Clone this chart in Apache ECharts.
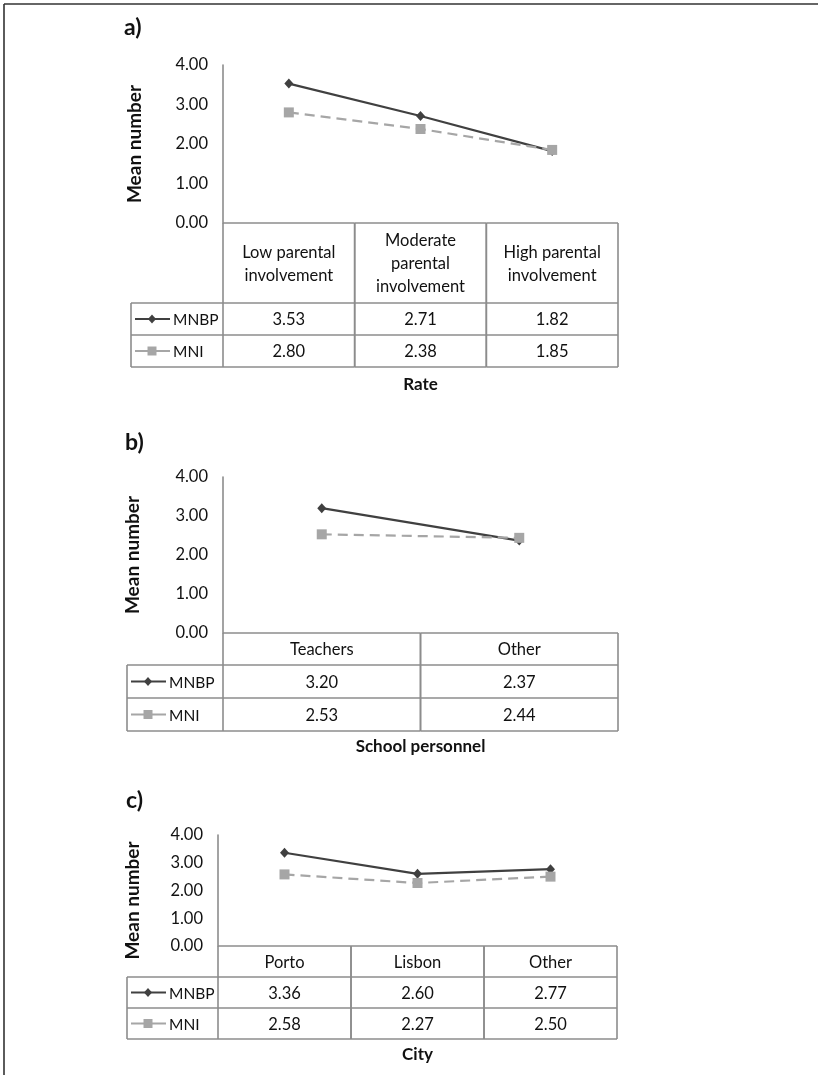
<!DOCTYPE html>
<html><head><meta charset="utf-8">
<script src="https://cdn.jsdelivr.net/npm/echarts@6/dist/echarts.min.js"></script>
<style>html,body{margin:0;padding:0;background:#fff}#c{width:818px;height:1075px}</style>
</head><body><div id="c"></div>
<script>
// ---- data ----
const rateCategories = ['Low parental\ninvolvement', 'Moderate\nparental\ninvolvement', 'High parental\ninvolvement'];
const rateMNBP = [3.53, 2.71, 1.82];
const rateMNI = [2.80, 2.38, 1.85];
const personnelCategories = ['Teachers', 'Other'];
const personnelMNBP = [3.20, 2.37];
const personnelMNI = [2.53, 2.44];
const cityCategories = ['Porto', 'Lisbon', 'Other'];
const cityMNBP = [3.36, 2.60, 2.77];
const cityMNI = [2.58, 2.27, 2.50];
const yTicks = [0, 1, 2, 3, 4];
const panelLabels = ['a)', 'b)', 'c)'];
const axisTitles = ['Rate', 'School personnel', 'City'];
const yAxisTitle = 'Mean number';
const seriesNames = ['MNBP', 'MNI'];

const panels = [
  {categories: rateCategories, mnbp: rateMNBP, mni: rateMNI},
  {categories: personnelCategories, mnbp: personnelMNBP, mni: personnelMNI},
  {categories: cityCategories, mnbp: cityMNBP, mni: cityMNI}
];

// ---- layout / style ----
const FONT = 'Lato';
const layouts = [
  {left: 223, top: 65, width: 395, height: 158, headerH: 80, rowH: 32, legendW: 92, nameGap: 79, namePad: [0,0,0,0], titleGap: 153, label: {left: 124, top: 16}},
  {left: 223, top: 477, width: 395, height: 156, headerH: 32, rowH: 33, legendW: 96, nameGap: 81, namePad: [0,0,0,0], titleGap: 105, label: {left: 125, top: 431}},
  {left: 218, top: 835, width: 399, height: 111, headerH: 31, rowH: 31, legendW: 91, nameGap: 76, namePad: [0,20,0,0], titleGap: 100, label: {left: 126, top: 789}}
];
const DARK = '#404040', LIGHT = '#a6a6a6', BORDER = '#8c8c8c', TXT = '#111';

function tableRender(pi) {
  const L = layouts[pi], d = panels[pi];
  return function (params, api) {
    const i = api.value(0);
    const cs = params.coordSys;
    const bw = api.size([1, 0])[0];
    const cx = api.coord([i, 0])[0];
    const x0 = cx - bw / 2, x1 = cx + bw / 2;
    const yTop = cs.y + cs.height;
    const y1 = yTop + L.headerH, y2 = y1 + L.rowH, y3 = y2 + L.rowH;
    const ls = {stroke: BORDER, lineWidth: 1.6};
    const ch = [];
    const seg = (ax, ay, bx, by) => ch.push({type: 'line', silent: true, shape: {x1: ax, y1: ay, x2: bx, y2: by}, style: ls});
    const txt = (t, x, y, align, size) => ch.push({type: 'text', silent: true, style: {text: t, x: x, y: y, align: align || 'center', verticalAlign: 'middle', fontFamily: FONT, fontSize: size || 16.5, lineHeight: 23, fill: TXT}});
    seg(x0, yTop, x1, yTop); seg(x0, y1, x1, y1); seg(x0, y2, x1, y2); seg(x0, y3, x1, y3);
    seg(x0, yTop, x0, y3); seg(x1, yTop, x1, y3);
    txt(d.categories[i], cx, (yTop + y1) / 2 + 1);
    txt(api.value(1).toFixed(2), cx, (y1 + y2) / 2 + 1);
    txt(api.value(2).toFixed(2), cx, (y2 + y3) / 2 + 1);
    if (i === 0) {
      const lx = x0 - L.legendW;
      seg(lx, y1, x0, y1); seg(lx, y2, x0, y2); seg(lx, y3, x0, y3); seg(lx, y1, lx, y3);
      const rows = [(y1 + y2) / 2, (y2 + y3) / 2];
      // MNBP key
      ch.push({type: 'line', silent: true, shape: {x1: lx + 4, y1: rows[0], x2: lx + 39, y2: rows[0]}, style: {stroke: DARK, lineWidth: 2.2}});
      ch.push({type: 'polygon', silent: true, shape: {points: [[lx + 21, rows[0] - 4.5], [lx + 25, rows[0]], [lx + 21, rows[0] + 4.5], [lx + 17, rows[0]]]}, style: {fill: DARK}});
      txt(seriesNames[0], lx + 42, rows[0] + 1, 'left', 15.5);
      // MNI key
      ch.push({type: 'line', silent: true, shape: {x1: lx + 4, y1: rows[1], x2: lx + 39, y2: rows[1]}, style: {stroke: LIGHT, lineWidth: 2.2}});
      ch.push({type: 'rect', silent: true, shape: {x: lx + 16.5, y: rows[1] - 4.5, width: 9, height: 9}, style: {fill: LIGHT}});
      txt(seriesNames[1], lx + 42, rows[1] + 1, 'left', 15.5);
    }
    return {type: 'group', children: ch};
  };
}

const grid = [], xAxis = [], yAxis = [], series = [], title = [];
panels.forEach((p, pi) => {
  const L = layouts[pi];
  grid.push({left: L.left, top: L.top, width: L.width, height: L.height, containLabel: false});
  xAxis.push({
    type: 'category', gridIndex: pi, data: p.categories, boundaryGap: true,
    axisLine: {show: false}, axisTick: {show: false}, axisLabel: {show: false}, splitLine: {show: false},
    name: axisTitles[pi], nameLocation: 'middle', nameGap: L.titleGap,
    nameTextStyle: {fontFamily: FONT, fontWeight: 'bold', fontSize: 17, color: TXT}
  });
  yAxis.push({
    type: 'value', gridIndex: pi, min: yTicks[0], max: yTicks[yTicks.length - 1], interval: yTicks[1] - yTicks[0],
    axisLine: {show: true, lineStyle: {color: BORDER, width: 1.6}}, axisTick: {show: false}, splitLine: {show: false},
    axisLabel: {formatter: v => v.toFixed(2), margin: 15, fontFamily: FONT, fontSize: 16.5, color: TXT},
    name: yAxisTitle, nameLocation: 'middle', nameRotate: 90, nameGap: L.nameGap,
    nameTextStyle: {fontFamily: FONT, fontWeight: 'bold', fontSize: 19, color: TXT, padding: L.namePad}
  });
  series.push({
    type: 'custom', xAxisIndex: pi, yAxisIndex: pi, z: 1, silent: true, clip: false,
    renderItem: tableRender(pi),
    data: p.categories.map((c, i) => [i, p.mnbp[i], p.mni[i]])
  });
  series.push({
    type: 'line', name: seriesNames[0], xAxisIndex: pi, yAxisIndex: pi, data: p.mnbp, z: 3,
    symbol: 'diamond', symbolSize: [9, 10], showSymbol: true,
    lineStyle: {color: DARK, width: 2.2}, itemStyle: {color: DARK}, animation: false
  });
  series.push({
    type: 'line', name: seriesNames[1], xAxisIndex: pi, yAxisIndex: pi, data: p.mni, z: 4,
    symbol: 'rect', symbolSize: 10, showSymbol: true,
    lineStyle: {color: LIGHT, width: 2.2, type: [10, 6]}, itemStyle: {color: LIGHT}, animation: false
  });
  title.push({text: panelLabels[pi], left: L.label.left, top: L.label.top, padding: 0,
    textStyle: {fontFamily: FONT, fontWeight: 'bold', fontSize: 23, color: '#111'}});
});

const chart = echarts.init(document.getElementById('c'), null, {renderer: 'canvas'});
chart.setOption({
  animation: false,
  backgroundColor: '#fff',
  title, grid, xAxis, yAxis, series,
  graphic: [
    {type: 'line', silent: true, shape: {x1: 4, y1: 4, x2: 818, y2: 4}, style: {stroke: '#333', lineWidth: 1.6}},
    {type: 'line', silent: true, shape: {x1: 4, y1: 4, x2: 4, y2: 1075}, style: {stroke: '#333', lineWidth: 1.6}}
  ]
});
</script></body></html>
